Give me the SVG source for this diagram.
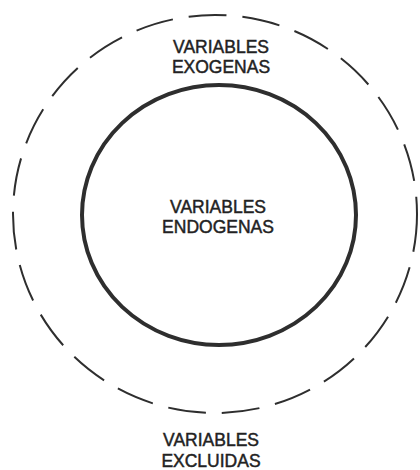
<svg xmlns="http://www.w3.org/2000/svg" width="420" height="470" viewBox="0 0 420 470">
<style>
.lbl{font-family:"Liberation Sans",Arial,sans-serif;font-size:17.5px;fill:#222222;stroke:#222222;stroke-width:0.45;text-anchor:middle}
.outer{fill:none;stroke:#2e2e2e;stroke-width:2;stroke-dasharray:38 16}
.inner{fill:none;stroke:#2e2e2e;stroke-width:4}
</style>
<rect width="420" height="470" fill="#ffffff"/>
<g id="excluidas">
<text class="lbl" x="211" y="446">VARIABLES</text>
<text class="lbl" x="211" y="466.5">EXCLUIDAS</text>
</g>
<g id="exogenas">
<ellipse class="outer" cx="215" cy="214" rx="202" ry="199"/>
<text class="lbl" x="221" y="52.5">VARIABLES</text>
<text class="lbl" x="221" y="72.5">EXOGENAS</text>
</g>
<g id="endogenas">
<ellipse class="inner" cx="219" cy="215" rx="137" ry="130"/>
<text class="lbl" x="218" y="212.5">VARIABLES</text>
<text class="lbl" x="218" y="233">ENDOGENAS</text>
</g>
<g id="connectors"></g>
</svg>
